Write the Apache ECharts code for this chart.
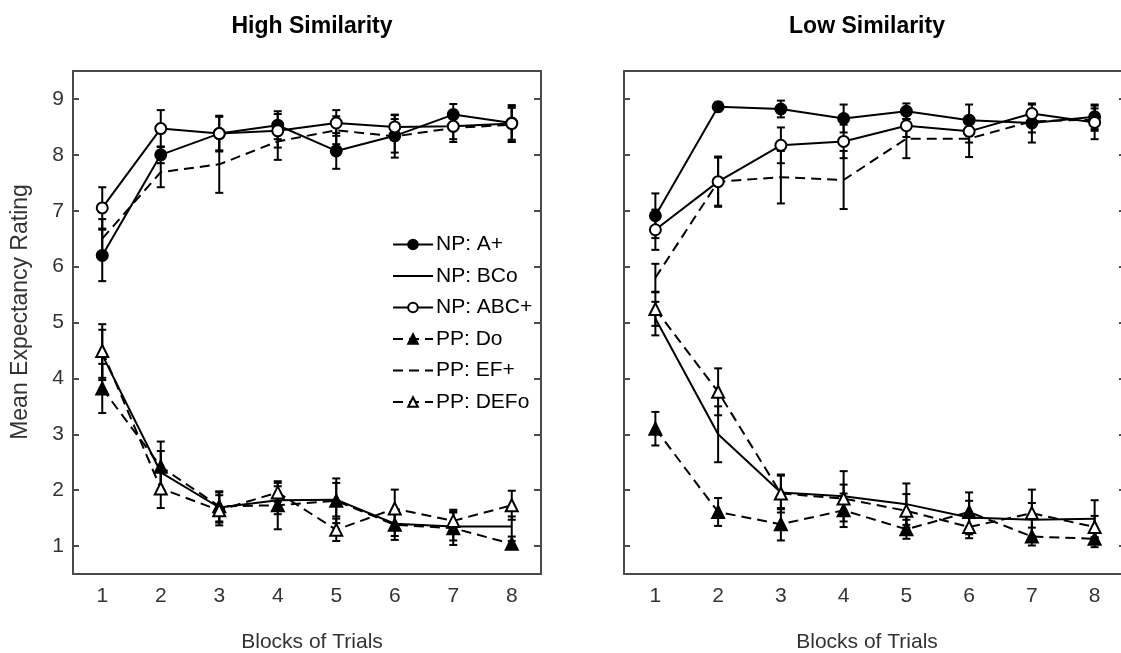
<!DOCTYPE html>
<html>
<head>
<meta charset="utf-8">
<script src="https://cdn.jsdelivr.net/npm/echarts@6/dist/echarts.min.js"></script>
<style>
  html, body { margin: 0; padding: 0; background: #fff; overflow: hidden; }
  /* the right-hand frame runs a few pixels past the window edge */
  #chart { width: 1128px; height: 653px; }
</style>
</head>
<body>
<div id="chart"></div>
<script>
// Blocks of trials (x categories) and rating ticks
const blocks = ['1', '2', '3', '4', '5', '6', '7', '8'];
const ratingTicks = [1, 2, 3, 4, 5, 6, 7, 8, 9];
const seriesNames = ['NP: A+', 'NP: BCo', 'NP: ABC+', 'PP: Do', 'PP: EF+', 'PP: DEFo'];
const panelTitles = ['High Similarity', 'Low Similarity'];

// High Similarity: means and error half-widths
const highAplus     = [6.20, 8.00, 8.38, 8.53, 8.07, 8.34, 8.72, 8.57];
const highAplusErr  = [0.46, 0.15, 0.30, 0.25, 0.32, 0.30, 0.19, 0.30];
const highBCo       = [4.42, 2.32, 1.69, 1.82, 1.83, 1.40, 1.35, 1.35];
const highBCoErr    = [0.45, 0.38, 0.27, 0.25, 0.30, 0.22, 0.25, 0.18];
const highABCplus   = [7.05, 8.47, 8.38, 8.43, 8.57, 8.50, 8.51, 8.56];
const highABCplusErr= [0.37, 0.33, 0.32, 0.30, 0.23, 0.22, 0.28, 0.33];
const highDo        = [3.82, 2.42, 1.71, 1.73, 1.81, 1.38, 1.32, 1.04];
const highDoErr     = [0.44, 0.45, 0.27, 0.43, 0.40, 0.27, 0.30, 0.05];
const highEFplus    = [6.50, 7.69, 7.83, 8.24, 8.44, 8.33, 8.48, 8.54];
const highEFplusErr = [0.35, 0.27, 0.51, 0.33, 0.25, 0.38, 0.20, 0.30];
const highDEFo      = [4.49, 2.03, 1.64, 1.96, 1.29, 1.67, 1.45, 1.73];
const highDEFoErr   = [0.48, 0.35, 0.27, 0.17, 0.20, 0.34, 0.20, 0.26];

// Low Similarity: means and error half-widths
const lowAplus      = [6.91, 8.86, 8.82, 8.65, 8.78, 8.62, 8.57, 8.68];
const lowAplusErr   = [0.40, 0.08, 0.15, 0.25, 0.14, 0.28, 0.35, 0.22];
const lowBCo        = [5.07, 3.00, 1.96, 1.89, 1.75, 1.51, 1.47, 1.49];
const lowBCoErr     = [0.30, 0.50, 0.30, 0.45, 0.37, 0.30, 0.30, 0.33];
const lowABCplus    = [6.66, 7.52, 8.17, 8.24, 8.52, 8.42, 8.74, 8.58];
const lowABCplusErr = [0.36, 0.43, 0.32, 0.30, 0.20, 0.20, 0.16, 0.30];
const lowDo         = [3.10, 1.61, 1.39, 1.64, 1.30, 1.61, 1.17, 1.13];
const lowDoErr      = [0.30, 0.25, 0.29, 0.30, 0.17, 0.35, 0.16, 0.15];
const lowEFplus     = [5.80, 7.52, 7.60, 7.55, 8.29, 8.29, 8.60, 8.63];
const lowEFplusErr  = [0.25, 0.45, 0.47, 0.52, 0.35, 0.33, 0.20, 0.20];
const lowDEFo       = [5.24, 3.76, 1.94, 1.85, 1.63, 1.34, 1.59, 1.34];
const lowDEFoErr    = [0.30, 0.42, 0.34, 0.25, 0.30, 0.20, 0.42, 0.20];

const panels = [
  [[highAplus, highAplusErr], [highBCo, highBCoErr], [highABCplus, highABCplusErr],
   [highDo, highDoErr], [highEFplus, highEFplusErr], [highDEFo, highDEFoErr]],
  [[lowAplus, lowAplusErr], [lowBCo, lowBCoErr], [lowABCplus, lowABCplusErr],
   [lowDo, lowDoErr], [lowEFplus, lowEFplusErr], [lowDEFo, lowDEFoErr]]
];

// Marker and line style per condition: NP solid, PP dashed
const looks = {
  'NP: A+':   { dash: 'solid', symbol: 'circle',   fill: '#000', size: 11 },
  'NP: BCo':  { dash: 'solid', symbol: 'none' },
  'NP: ABC+': { dash: 'solid', symbol: 'circle',   fill: '#fff', size: 11 },
  'PP: Do':   { dash: [10, 6], symbol: 'triangle', fill: '#000', size: 12 },
  'PP: EF+':  { dash: [10, 6], symbol: 'none' },
  'PP: DEFo': { dash: [10, 6], symbol: 'triangle', fill: '#fff', size: 12 }
};

const frameColor = '#4a4a4a';
const textColor = '#333';
const fontFamily = '"Liberation Sans", Arial, Helvetica, sans-serif';

const grids = [
  { left: 73, top: 71, width: 468, height: 503 },
  { left: 624, top: 71, width: 502, height: 503 }
];

const xAxes = [];
const yAxes = [];
grids.forEach((g, gi) => {
  xAxes.push({
    type: 'category', data: blocks, gridIndex: gi, position: 'bottom', boundaryGap: true,
    axisLine: { lineStyle: { color: frameColor, width: 2 } },
    axisTick: { inside: true, alignWithLabel: true, length: 6, lineStyle: { color: frameColor, width: 2 } },
    axisLabel: { color: textColor, fontSize: 21, fontFamily, margin: 12 },
    splitLine: { show: false }
  });
  xAxes.push({
    type: 'category', data: blocks, gridIndex: gi, position: 'top', boundaryGap: true,
    axisLine: { lineStyle: { color: frameColor, width: 2 } },
    axisTick: { inside: true, alignWithLabel: true, length: 6, lineStyle: { color: frameColor, width: 2 } },
    axisLabel: { show: false }, splitLine: { show: false }
  });
  yAxes.push({
    type: 'value', gridIndex: gi, position: 'left', min: 0.5, max: 9.5,
    axisLine: { show: true, lineStyle: { color: frameColor, width: 2 } },
    axisTick: { show: true, inside: true, length: 6, customValues: ratingTicks, lineStyle: { color: frameColor, width: 2 } },
    axisLabel: { show: gi === 0, color: textColor, fontSize: 21, fontFamily, margin: 9, customValues: ratingTicks },
    splitLine: { show: false }
  });
  yAxes.push({
    type: 'value', gridIndex: gi, position: 'right', min: 0.5, max: 9.5,
    axisLine: { show: true, lineStyle: { color: frameColor, width: 2 } },
    axisTick: { show: true, inside: true, length: 7, customValues: ratingTicks, lineStyle: { color: frameColor, width: 2 } },
    axisLabel: { show: false }, splitLine: { show: false }
  });
});

// Error bars: vertical whisker with short caps
function renderErrorBar(params, api) {
  const x = api.value(0);
  const top = api.coord([x, api.value(2)]);
  const bot = api.coord([x, api.value(1)]);
  const cap = 4;
  const style = { stroke: '#000', lineWidth: 2 };
  return {
    type: 'group',
    children: [
      { type: 'line', shape: { x1: top[0], y1: top[1], x2: bot[0], y2: bot[1] }, style },
      { type: 'line', shape: { x1: top[0] - cap, y1: top[1], x2: top[0] + cap, y2: top[1] }, style },
      { type: 'line', shape: { x1: bot[0] - cap, y1: bot[1], x2: bot[0] + cap, y2: bot[1] }, style }
    ]
  };
}

const series = [];
panels.forEach((panel, pi) => {
  const xi = pi * 2, yi = pi * 2;
  panel.forEach(([means, errs], si) => {
    const name = seriesNames[si];
    series.push({
      type: 'custom', name: name + ' error', xAxisIndex: xi, yAxisIndex: yi,
      renderItem: renderErrorBar, encode: { x: 0, y: [1, 2] }, z: 2,
      data: means.map((m, i) => [i, m - errs[i], m + errs[i]]), silent: true
    });
  });
  panel.forEach(([means], si) => {
    const name = seriesNames[si];
    const lk = looks[name];
    series.push({
      type: 'line', name, xAxisIndex: xi, yAxisIndex: yi, data: means, z: 3,
      symbol: lk.symbol, symbolSize: lk.size || 0, showSymbol: lk.symbol !== 'none',
      lineStyle: { color: '#000', width: 2, type: lk.dash },
      itemStyle: { color: lk.fill || '#000', borderColor: '#000', borderWidth: 2 },
      emphasis: { disabled: true }
    });
  });
});

// Legend entries: plain line icons carry no marker
const legendData = seriesNames.map(n => looks[n].symbol === 'none'
  ? { name: n, itemStyle: { opacity: 0 } }
  : { name: n });

const chart = echarts.init(document.getElementById('chart'), null, { renderer: 'canvas' });
chart.setOption({
  animation: false,
  backgroundColor: '#fff',
  title: [
    { text: panelTitles[0], left: 307, top: 10, textAlign: 'center',
      textStyle: { fontSize: 23, fontWeight: 'bold', color: '#000', fontFamily } },
    { text: panelTitles[1], left: 862, top: 10, textAlign: 'center',
      textStyle: { fontSize: 23, fontWeight: 'bold', color: '#000', fontFamily } },
    { text: 'Blocks of Trials', left: 307, top: 627, textAlign: 'center',
      textStyle: { fontSize: 21, fontWeight: 'normal', color: textColor, fontFamily } },
    { text: 'Blocks of Trials', left: 862, top: 627, textAlign: 'center',
      textStyle: { fontSize: 21, fontWeight: 'normal', color: textColor, fontFamily } }
  ],
  graphic: [{
    type: 'text', x: 21, y: 312, rotation: Math.PI / 2,
    style: { text: 'Mean Expectancy Rating', fill: textColor, fontSize: 23, fontFamily,
             align: 'center', verticalAlign: 'middle' }
  }],
  legend: {
    data: legendData, orient: 'vertical', left: 392, top: 234,
    itemWidth: 40, itemHeight: 12, itemGap: 10.5, padding: 0,
    textStyle: { fontSize: 21, color: '#000', fontFamily, padding: [0, 0, 0, -2] },
    selectedMode: false
  },
  grid: grids,
  xAxis: xAxes,
  yAxis: yAxes,
  series
});
</script>
</body>
</html>
